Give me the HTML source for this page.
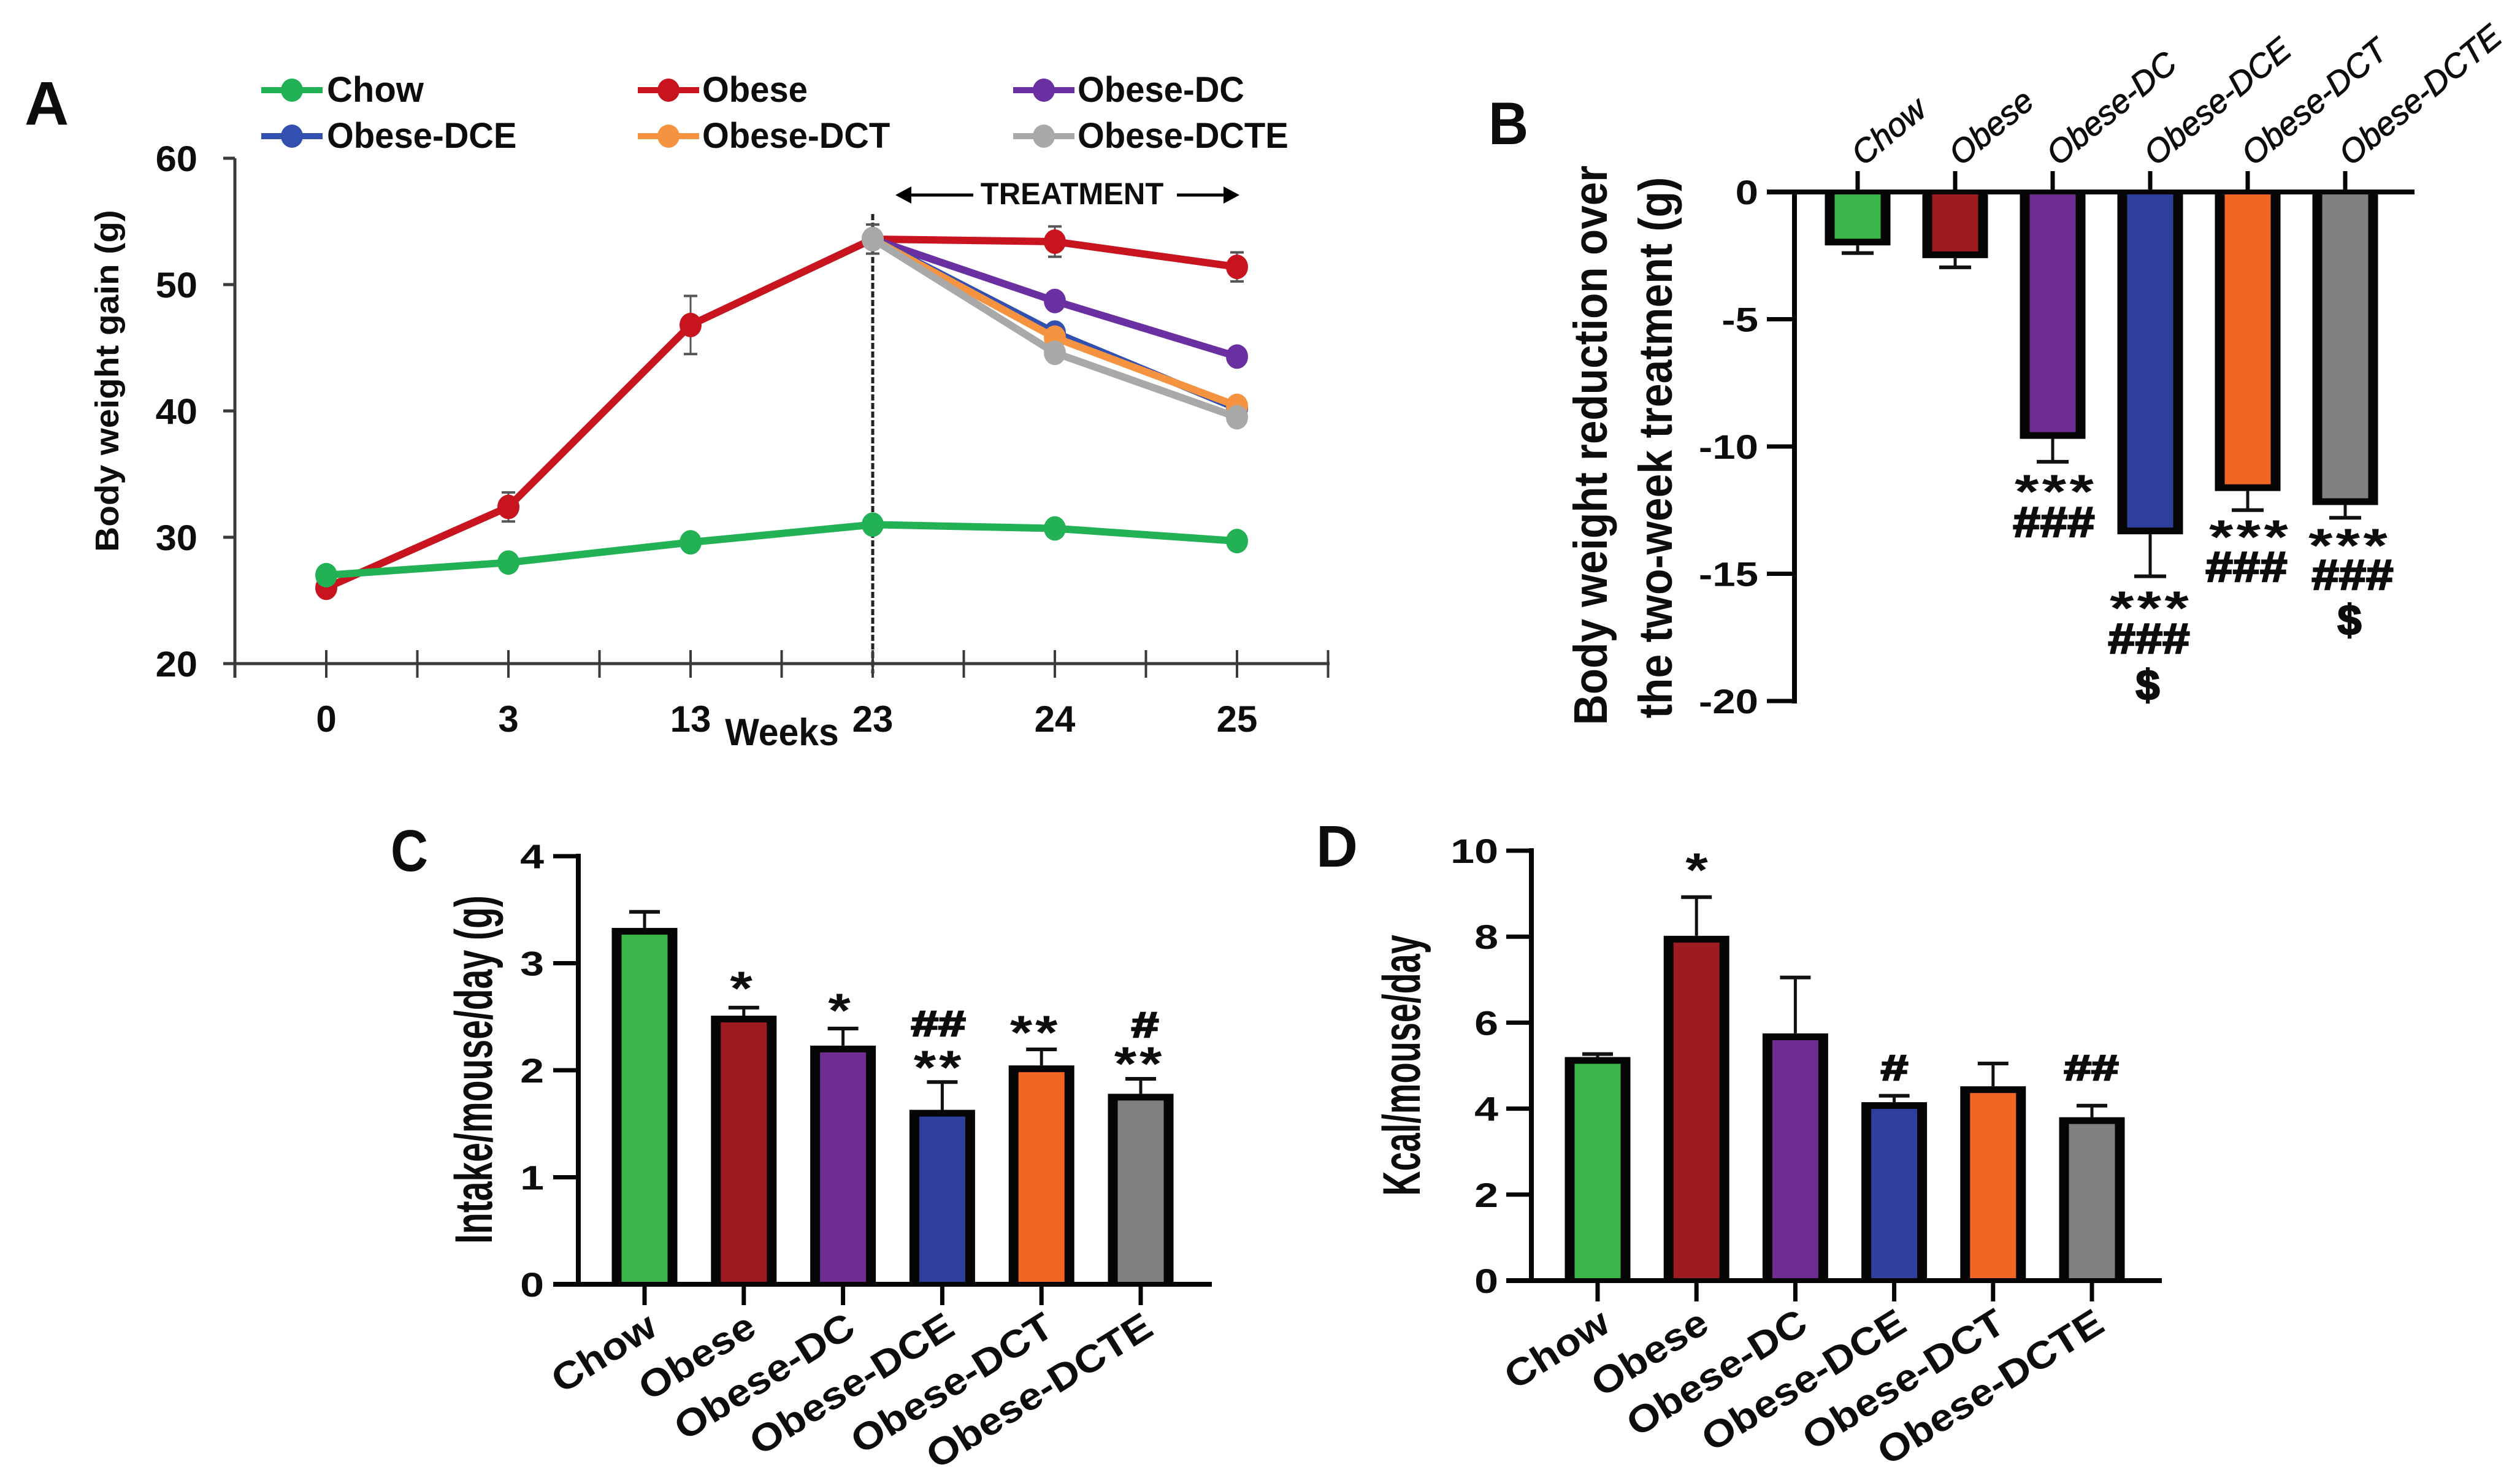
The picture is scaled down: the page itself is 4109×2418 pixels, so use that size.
<!DOCTYPE html>
<html lang="en">
<head>
<meta charset="utf-8">
<title>Body weight and intake by treatment group</title>
<style>
html,body{margin:0;padding:0;background:#fff;}
svg{display:block;}
text{font-family:"Liberation Sans",sans-serif;fill:#0d0d0d;}
.b{font-weight:700;}
.star{font-weight:700;font-size:78px;letter-spacing:4px;text-anchor:middle;}
.hash{font-weight:700;font-size:70px;text-anchor:middle;stroke:#0d0d0d;stroke-width:2.5px;}
</style>
</head>
<body>
<svg id="figure" xmlns="http://www.w3.org/2000/svg" width="4109" height="2418" viewBox="0 0 4109 2418">
<rect x="0" y="0" width="4109" height="2418" fill="#ffffff"/>

<g id="panel-a">
  <text class="b" font-size="100" transform="translate(40,203)">A</text>
  <text class="b" font-size="54" text-anchor="middle" transform="translate(193,621) rotate(-90) scale(1.05,1)">Body weight gain (g)</text>
  <text class="b" font-size="62" text-anchor="middle" transform="translate(1275,1215) scale(.95,1)">Weeks</text>
  <text class="b" font-size="50" text-anchor="middle" transform="translate(1748,333) scale(.98,1)">TREATMENT</text>
  <g>
    <line x1="1475" y1="318" x2="1587" y2="318" stroke="#000" stroke-width="5"/>
    <polygon points="1460,318 1486,304 1486,332" fill="#000"/>
  </g>
  <g>
    <line x1="1919" y1="318" x2="2005" y2="318" stroke="#000" stroke-width="5"/>
    <polygon points="2021,318 1995,304 1995,332" fill="#000"/>
  </g>
  <line x1="1423" y1="349" x2="1423" y2="1098" stroke="#222" stroke-width="5" stroke-dasharray="10 4"/>
</g>

<g id="panel-b">
  <text class="b" font-size="98" transform="translate(2427,235) scale(.92,1)">B</text>
  <text class="b" font-size="77" text-anchor="middle" transform="translate(2620,726) rotate(-90) scale(.9,1)">Body weight reduction over</text>
  <text class="b" font-size="77" text-anchor="middle" transform="translate(2726,730) rotate(-90) scale(.905,1)">the two-week treatment (g)</text>
</g>

<g id="panel-c">
  <text class="b" font-size="96" transform="translate(637,1420) scale(.88,1)">C</text>
  <text class="b" font-size="86" text-anchor="middle" transform="translate(802,1744) rotate(-90) scale(.664,1)">Intake/mouse/day (g)</text>
</g>

<g id="panel-d">
  <text class="b" font-size="96" transform="translate(2146,1413) scale(.98,1)">D</text>
  <text class="b" font-size="86" text-anchor="middle" transform="translate(2315,1737) rotate(-90) scale(.65,1)">Kcal/mouse/day</text>
</g>

<g id="annotations">
  <text class="star" transform="translate(3352,828) scale(1.3,1)">***</text>
  <text class="hash" transform="translate(3349,875) scale(1.14,1)">###</text>
  <text class="star" transform="translate(3507,1018) scale(1.3,1)">***</text>
  <text class="hash" transform="translate(3504,1065) scale(1.14,1)">###</text>
  <text class="hash" transform="translate(3502,1141)">$</text>
  <text class="star" transform="translate(3669,902) scale(1.3,1)">***</text>
  <text class="hash" transform="translate(3663,948) scale(1.14,1)">###</text>
  <text class="star" transform="translate(3831,916) scale(1.3,1)">***</text>
  <text class="hash" transform="translate(3836,961) scale(1.14,1)">###</text>
  <text class="hash" transform="translate(3831,1035)">$</text>

  <text class="star" transform="translate(1211,1638) scale(1.2,1)">*</text>
  <text class="star" transform="translate(1371,1674) scale(1.2,1)">*</text>
  <text class="hash" style="font-size:58px" transform="translate(1530,1689) scale(1.38,1)">##</text>
  <text class="star" transform="translate(1531,1767) scale(1.2,1)">**</text>
  <text class="star" transform="translate(1688,1710) scale(1.2,1)">**</text>
  <text class="hash" style="font-size:58px" transform="translate(1867,1691) scale(1.38,1)">#</text>
  <text class="star" transform="translate(1858,1761) scale(1.2,1)">**</text>

  <text class="star" transform="translate(2769,1445) scale(1.2,1)">*</text>
  <text class="hash" style="font-size:58px" transform="translate(3089,1761) scale(1.38,1)">#</text>
  <text class="hash" style="font-size:58px" transform="translate(3410,1761) scale(1.38,1)">##</text>
</g>
</svg>

<script>
// ---------- shared category data ----------
const categories = ['Chow', 'Obese', 'Obese-DC', 'Obese-DCE', 'Obese-DCT', 'Obese-DCTE'];
const barColors = ['#39b54a', '#9e1b20', '#6f2c91', '#2e3f9e', '#f26522', '#808080'];
const lineColors = ['#22b255', '#c8141f', '#6a2fa0', '#3150b0', '#f59340', '#a9a9a9'];

// ---------- panel A: body weight gain ----------
const weeks = ['0', '3', '13', '23', '24', '25'];
const aYTicks = [20, 30, 40, 50, 60];
const chowGain = [27, 28, 29.6, 31, 30.7, 29.7];
const obeseGain = [26, 32.4, 46.8, 53.6, 53.4, 51.4];
const obeseDcGain = [null, null, null, 53.6, 48.7, 44.3];
const obeseDceGain = [null, null, null, 53.6, 46.2, 40.2];
const obeseDctGain = [null, null, null, 53.6, 45.8, 40.4];
const obeseDcteGain = [null, null, null, 53.6, 44.6, 39.5];
const obeseGainError = [0, 1.15, 2.3, 1.15, 1.2, 1.15];
const aSeries = [obeseGain, chowGain, obeseDcGain, obeseDceGain, obeseDctGain, obeseDcteGain];
const aSeriesNames = ['Obese', 'Chow', 'Obese-DC', 'Obese-DCE', 'Obese-DCT', 'Obese-DCTE'];
const aSeriesColorIndex = [1, 0, 2, 3, 4, 5];

// ---------- panel B: weight reduction ----------
const bYTicks = [0, -5, -10, -15, -20];
const bValues = [-2.1, -2.6, -9.7, -13.45, -11.75, -12.3];
const bErrorTips = [-2.4, -2.96, -10.6, -15.1, -12.5, -12.8];

// ---------- panel C: food intake ----------
const cYTicks = [0, 1, 2, 3, 4];
const cValues = [3.33, 2.51, 2.23, 1.63, 2.045, 1.78];
const cErrorTips = [3.48, 2.585, 2.39, 1.89, 2.195, 1.92];

// ---------- panel D: energy intake ----------
const dYTicks = [0, 2, 4, 6, 8, 10];
const dValues = [5.2, 8.02, 5.75, 4.15, 4.52, 3.8];
const dErrorTips = [5.27, 8.92, 7.05, 4.3, 5.05, 4.07];

// ---------- axis functions ----------
const aX = function (i) { return 532 + i * 297; };
const aY = function (v) { return 1082 - (v - 20) * 20.6; };
const bX = function (i) { return 3029 + i * 159; };
const bY = function (v) { return 313 - v * 41.5; };
const cX = function (i) { return 1051 + i * 161.8; };
const cY = function (v) { return 2094 - v * 174.5; };
const dX = function (i) { return 2605 + i * 161.2; };
const dY = function (v) { return 2088 - v * 70.1; };

const NS = 'http://www.w3.org/2000/svg';
function make(tag, attrs, parent) {
  const node = document.createElementNS(NS, tag);
  for (const k in attrs) node.setAttribute(k, attrs[k]);
  parent.appendChild(node);
  return node;
}
function line(parent, x1, y1, x2, y2, color, width) {
  return make('line', { x1: x1, y1: y1, x2: x2, y2: y2, stroke: color, 'stroke-width': width }, parent);
}
function label(parent, str, x, y, size, anchor, rot, sx, bold, fill, italic) {
  const t = make('text', {
    'font-size': size,
    'text-anchor': anchor,
    'font-weight': bold ? 700 : 400,
    'font-style': italic ? 'italic' : 'normal',
    fill: fill,
    transform: 'translate(' + x + ',' + y + ') rotate(' + rot + ') scale(' + sx + ',1)'
  }, parent);
  t.textContent = str;
  return t;
}

// ---------- panel A drawing ----------
(function drawPanelA() {
  const g = document.getElementById('panel-a');
  const axis = '#3a3a3a';
  const yAxisLine = line(g, 383, aY(60), 383, 1105, axis, 5);
  
  
  const xAxisLine = line(g, 364, aY(20), 2168, aY(20), axis, 5);
  
  

  aYTicks.forEach(function (v) {
    const tick = line(g, 364, aY(v), 383, aY(v), axis, 5);
    
    
    const tl = label(g, String(v), 322, aY(v) + 21, 58, 'end', 0, 1.06, true, '#0d0d0d', false);
    
    
  });

  for (let i = -0.5; i <= 5.5; i += 0.5) {
    const xt = line(g, aX(i), 1060, aX(i), 1105, axis, 4);
    
    
  }
  weeks.forEach(function (w, i) {
    const tl = label(g, w, aX(i), 1193, 60, 'middle', 0, 1, true, '#0d0d0d', false);
    
    
  });

  // error bars (obese series)
  obeseGain.forEach(function (v, i) {
    const err = obeseGainError[i];
    if (!err) return;
    const eb = make('g', {}, g);
    
    
    line(eb, aX(i), aY(v - err), aX(i), aY(v + err), '#555', 3);
    line(eb, aX(i) - 11, aY(v + err), aX(i) + 11, aY(v + err), '#555', 4);
    line(eb, aX(i) - 11, aY(v - err), aX(i) + 11, aY(v - err), '#555', 4);
  });

  // series lines and markers
  aSeries.forEach(function (series, s) {
    const color = lineColors[aSeriesColorIndex[s]];
    const pts = [];
    series.forEach(function (v, i) {
      if (v !== null) pts.push(aX(i) + ',' + aY(v));
    });
    const sg = make('g', {}, g);
    
    
    const pl = make('polyline', { points: pts.join(' '), fill: 'none', stroke: color, 'stroke-width': 12, 'stroke-linejoin': 'round' }, sg);
    
    
    series.forEach(function (v, i) {
      if (v === null) return;
      const dot = make('ellipse', { cx: aX(i), cy: aY(v), rx: 18, ry: 20, fill: color }, sg);
      
      
    });
  });

  // legend
  const legendOrder = [0, 1, 2, 3, 4, 5];
  const legendColumnX = [426, 1040, 1652];
  const legendTextX = [533, 1145, 1757];
  const legendRowY = [147, 222];
  legendOrder.forEach(function (c, idx) {
    const col = idx % 3;
    const row = Math.floor(idx / 3);
    const lx = legendColumnX[col];
    const ly = legendRowY[row];
    const entry = make('g', {}, g);
    
    
    line(entry, lx, ly, lx + 100, ly, lineColors[c], 10);
    make('ellipse', { cx: lx + 50, cy: ly, rx: 18, ry: 19, fill: lineColors[c] }, entry);
    label(entry, categories[c], legendTextX[col], ly + 19, 58, 'start', 0, c === 0 ? 1 : 0.97, true, '#595959', false);
  });
})();

// ---------- generic bar panel ----------
function drawBarPanel(panelId, prefix, values, tips, ticks, xFn, yFn, o) {
  const g = document.getElementById(panelId);
  const zero = yFn(0);
  values.forEach(function (v, i) {
    const x = xFn(i);
    const tip = yFn(tips[i]);
    const edge = yFn(v);
    const top = Math.min(edge, zero);
    const h = Math.abs(edge - zero);
    const err = make('g', {}, g);
    
    
    line(err, x, edge, x, tip, '#111', 5);
    line(err, x - o.cap / 2, tip, x + o.cap / 2, tip, '#111', 6);

    const outline = make('rect', { x: x - o.barW / 2, y: top, width: o.barW, height: h, fill: '#050505' }, g);
    
    
    const inset = 11;
    const fill = make('rect', {
      x: x - o.barW / 2 + 16,
      y: top + (v > 0 ? inset : 0),
      width: o.barW - 32,
      height: Math.max(0, h - inset),
      fill: barColors[i]
    }, g);
    
    
  });

  const lastTick = Math.min.apply(null, ticks.map(yFn));
  const maxTick = Math.max.apply(null, ticks.map(yFn));
  const ya = line(g, o.axisX, lastTick - 4, o.axisX, maxTick + 4, '#050505', 8);
  
  
  const xa = line(g, o.tickLeft, zero, o.axisEnd, zero, '#050505', 8);
  
  

  ticks.forEach(function (t) {
    const tk = line(g, o.tickLeft, yFn(t), o.axisX, yFn(t), '#050505', 7);
    
    
    const tl = label(g, String(t), o.tickLabelX, yFn(t) + 20, 56, 'end', 0, o.tickSx, true, '#0d0d0d', false);
    
    
  });

  categories.forEach(function (c, i) {
    const x = xFn(i);
    const tk = line(g, x, zero, x, zero + o.catTick, '#050505', 7);
    
    
    const cl = o.catTick < 0
      ? label(g, c, x + 9, 272, 54, 'start', -39.5, 1, false, '#0d0d0d', true)
      : label(g, c, x + 24, zero + 80, 62, 'end', -32, 1.11, true, '#0d0d0d', false);
    if (o.catTick < 0) {
      cl.setAttribute('stroke', '#0d0d0d');
      cl.setAttribute('stroke-width', '1');
    }
    
    
  });
}

drawBarPanel('panel-b', 'panel-b', bValues, bErrorTips, bYTicks, bX, bY, {
  barW: 107, cap: 52, axisX: 2926, tickLeft: 2881, axisEnd: 3937, tickLabelX: 2867, tickSx: 1.2, catTick: -34
});
drawBarPanel('panel-c', 'panel-c', cValues, cErrorTips, cYTicks, cX, cY, {
  barW: 107, cap: 50, axisX: 943, tickLeft: 902, axisEnd: 1976, tickLabelX: 887, tickSx: 1.25, catTick: 34
});
drawBarPanel('panel-d', 'panel-d', dValues, dErrorTips, dYTicks, dX, dY, {
  barW: 107, cap: 50, axisX: 2497, tickLeft: 2456, axisEnd: 3525, tickLabelX: 2443, tickSx: 1.25, catTick: 34
});

// keep annotations above the bars
document.getElementById('figure').appendChild(document.getElementById('annotations'));
</script>
</body>
</html>
